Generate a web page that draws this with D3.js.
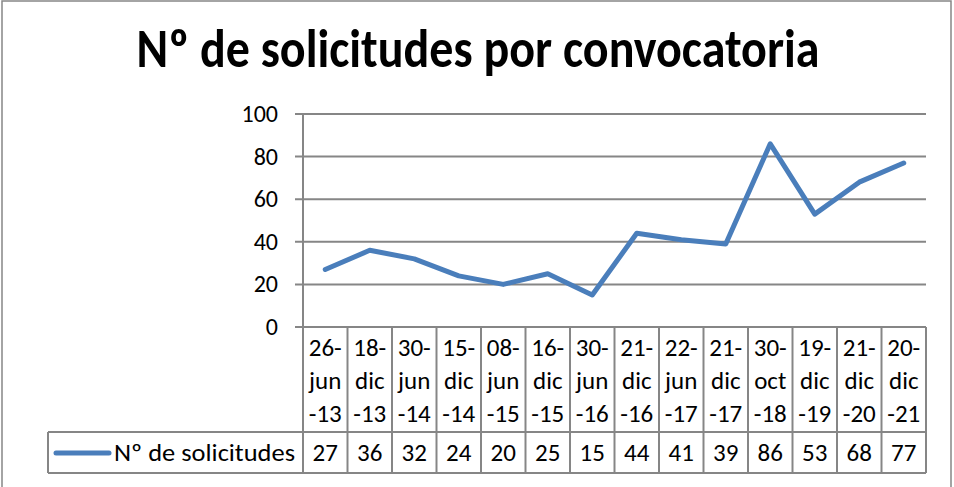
<!DOCTYPE html>
<html><head><meta charset="utf-8">
<script src="https://cdn.jsdelivr.net/npm/d3@7/dist/d3.min.js"></script>
<style>body{margin:0;background:#fff}svg{display:block}</style>
</head><body>
<svg id="c" width="954" height="487"></svg>
<script>
const dates = ["26-jun-13","18-dic-13","30-jun-14","15-dic-14","08-jun-15","16-dic-15","30-jun-16","21-dic-16","22-jun-17","21-dic-17","30-oct-18","19-dic-19","21-dic-20","20-dic-21"];
const values = [27,36,32,24,20,25,15,44,41,39,86,53,68,77];
const yTicks = [0,20,40,60,80,100];
const seriesName = "Nº de solicitudes";
const title = "Nº de solicitudes por convocatoria";

const font = "Calibri, Carlito, 'Open Sans', 'Noto Sans', sans-serif";
const fs = 25;
const grid = "#868686";
const svg = d3.select("#c");

// outer border
svg.append("rect").attr("x",2).attr("y",1).attr("width",949).attr("height",495)
  .attr("fill","none").attr("stroke",grid).attr("stroke-width",1.5);

svg.append("text").attr("x",478).attr("y",67).attr("text-anchor","middle")
  .attr("font-family",font).attr("font-weight","bold").attr("font-size",55)
  .attr("textLength",683).attr("lengthAdjust","spacingAndGlyphs").text(title);

const L=303, R=926, T=114, B=327;
const x = d3.scaleBand().domain(dates).range([L,R]);
const y = d3.scaleLinear().domain([0,100]).range([B,T]);

// gridlines
svg.append("g").selectAll("line").data(yTicks).join("line")
  .attr("x1",L-8).attr("x2",R).attr("y1",d=>y(d)).attr("y2",d=>y(d))
  .attr("stroke",grid).attr("stroke-width",2);
// y labels
svg.append("g").selectAll("text").data(yTicks).join("text")
  .attr("x",278).attr("y",d=>y(d)+8).attr("text-anchor","end")
  .attr("font-family",font).attr("font-size",24).attr("fill","#000").text(d=>d);

// table
const rowTop=B, rowMid=432, rowBot=473, legL=48;
const tg = svg.append("g").attr("stroke",grid).attr("stroke-width",2);
tg.append("line").attr("x1",L).attr("x2",L).attr("y1",T).attr("y2",rowBot);
tg.append("line").attr("x1",legL).attr("x2",R).attr("y1",rowMid).attr("y2",rowMid);
tg.append("line").attr("x1",legL).attr("x2",R).attr("y1",rowBot).attr("y2",rowBot);
tg.append("line").attr("x1",legL).attr("x2",legL).attr("y1",rowMid).attr("y2",rowBot);
tg.selectAll("line.col").data(dates).join("line").attr("class","col")
  .attr("x1",d=>x(d)+x.bandwidth()).attr("x2",d=>x(d)+x.bandwidth())
  .attr("y1",rowTop).attr("y2",rowBot);

// category labels (3 lines)
const cat = svg.append("g").attr("font-family",font).attr("font-size",fs).attr("text-anchor","middle");
dates.forEach(d=>{
  const parts = d.split("-");
  const lines = [parts[0]+"-", parts[1], "-"+parts[2]];
  lines.forEach((s,i)=>{
    cat.append("text").attr("x",x(d)+x.bandwidth()/2).attr("y",356+i*33).text(s);
  });
});
// values row
svg.append("g").selectAll("text").data(values).join("text")
  .attr("x",(d,i)=>x(dates[i])+x.bandwidth()/2).attr("y",461)
  .attr("text-anchor","middle").attr("font-family",font).attr("font-size",fs).text(d=>d);

// legend
svg.append("line").attr("x1",56).attr("x2",109).attr("y1",453).attr("y2",453)
  .attr("stroke","#4A7EBB").attr("stroke-width",5).attr("stroke-linecap","round");
svg.append("text").attr("x",114).attr("y",461).attr("font-family",font).attr("font-size",fs)
  .attr("textLength",181).attr("lengthAdjust","spacingAndGlyphs").text(seriesName);

// line
const line = d3.line().x((d,i)=>x(dates[i])+x.bandwidth()/2).y(d=>y(d));
svg.append("path").datum(values).attr("d",line).attr("fill","none")
  .attr("stroke","#4A7EBB").attr("stroke-width",5).attr("stroke-linejoin","round").attr("stroke-linecap","round");
</script>
</body></html>
